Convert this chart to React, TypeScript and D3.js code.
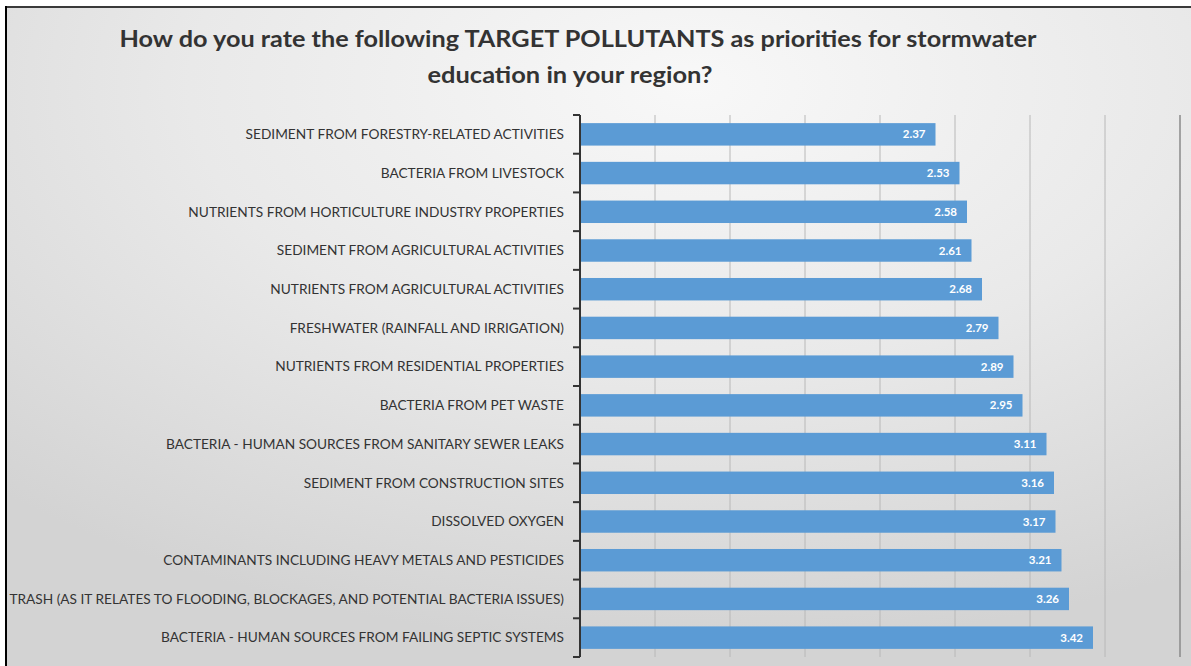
import React from "react";
import * as d3 from "d3";

const titleLines = [
  "How do you rate the following TARGET POLLUTANTS as priorities for stormwater",
  "education in your region?",
];

const categories = [
  "SEDIMENT FROM FORESTRY-RELATED ACTIVITIES",
  "BACTERIA FROM LIVESTOCK",
  "NUTRIENTS FROM HORTICULTURE INDUSTRY PROPERTIES",
  "SEDIMENT FROM AGRICULTURAL ACTIVITIES",
  "NUTRIENTS FROM AGRICULTURAL ACTIVITIES",
  "FRESHWATER (RAINFALL AND IRRIGATION)",
  "NUTRIENTS FROM RESIDENTIAL PROPERTIES",
  "BACTERIA FROM PET WASTE",
  "BACTERIA - HUMAN SOURCES FROM SANITARY SEWER LEAKS",
  "SEDIMENT FROM CONSTRUCTION SITES",
  "DISSOLVED OXYGEN",
  "CONTAMINANTS INCLUDING HEAVY METALS AND PESTICIDES",
  "TRASH (AS IT RELATES TO FLOODING, BLOCKAGES, AND POTENTIAL BACTERIA ISSUES)",
  "BACTERIA - HUMAN SOURCES FROM FAILING SEPTIC SYSTEMS",
];

const values = [2.37, 2.53, 2.58, 2.61, 2.68, 2.79, 2.89, 2.95, 3.11, 3.16, 3.17, 3.21, 3.26, 3.42];

const xDomain: [number, number] = [0, 4];
const gridTicks = [0.5, 1, 1.5, 2, 2.5, 3, 3.5, 4];

const W = 1191;
const H = 666;

const titleLayout = [
  { x: 578, y: 47, len: 917 },
  { x: 570, y: 83, len: 285 },
];

export default function App() {
  const x = d3.scaleLinear().domain(xDomain).range([580, 1180]);
  const y = d3.scaleBand<string>().domain(categories).range([115, 657]).paddingInner(0.42).paddingOuter(0.21);
  const boundaries = d3.range(categories.length + 1).map((i) => 115 + (i * (657 - 115)) / categories.length);
  const font = "Lato, 'Open Sans', sans-serif";

  return (
    <svg width={W} height={H} style={{ position: "fixed", left: 0, top: 0 }}>
      <defs>
        <radialGradient id="bg" cx="0.58" cy="0.12" r="0.85" fx="0.58" fy="0.12">
          <stop offset="0" stopColor="#f8f8f8" />
          <stop offset="0.5" stopColor="#e9e9e9" />
          <stop offset="1" stopColor="#d3d3d3" />
        </radialGradient>
      </defs>
      <rect x={0} y={0} width={W} height={H} fill="#ffffff" />
      <rect x={6} y={7} width={W - 6} height={H - 7} fill="url(#bg)" />
      <line x1={5} x2={W} y1={7} y2={7} stroke="#3a3a3a" strokeWidth={2} />
      <line x1={6} x2={6} y1={6} y2={H} stroke="#000" strokeWidth={2} />

      {titleLines.map((t, i) => (
        <text
          key={i}
          x={titleLayout[i].x}
          y={titleLayout[i].y}
          textAnchor="middle"
          fontFamily={font}
          fontWeight={700}
          fontSize={22}
          fill="#333"
          textLength={titleLayout[i].len}
          lengthAdjust="spacingAndGlyphs"
        >
          {t}
        </text>
      ))}

      {gridTicks.map((t) => (
        <line
          key={t}
          x1={x(t)}
          x2={x(t)}
          y1={115}
          y2={657}
          stroke={t === 4 ? "#8a8a8a" : "#b8b8b8"}
          strokeWidth={t === 4 ? 1.5 : 1}
        />
      ))}

      {categories.map((c, i) => (
        <g key={c}>
          <rect
            x={x(0)}
            y={y(c)}
            width={x(values[i]) - x(0)}
            height={y.bandwidth()}
            fill="#5b9bd5"
          />
          <text
            x={x(values[i]) - 10}
            y={(y(c) as number) + y.bandwidth() / 2}
            dy="0.35em"
            textAnchor="end"
            fontFamily={font}
            fontWeight={700}
            fontSize={11.5}
            fill="#ffffff"
          >
            {values[i].toFixed(2)}
          </text>
          <text
            x={564}
            y={(y(c) as number) + y.bandwidth() / 2}
            dy="0.35em"
            textAnchor="end"
            fontFamily={font}
            fontSize={13.7}
            fill="#333"
          >
            {c}
          </text>
        </g>
      ))}

      <line x1={580} x2={580} y1={115} y2={657} stroke="#333" strokeWidth={2} />
      {boundaries.map((b, i) => (
        <line key={i} x1={573} x2={580} y1={b} y2={b} stroke="#333" strokeWidth={2} />
      ))}
    </svg>
  );
}
